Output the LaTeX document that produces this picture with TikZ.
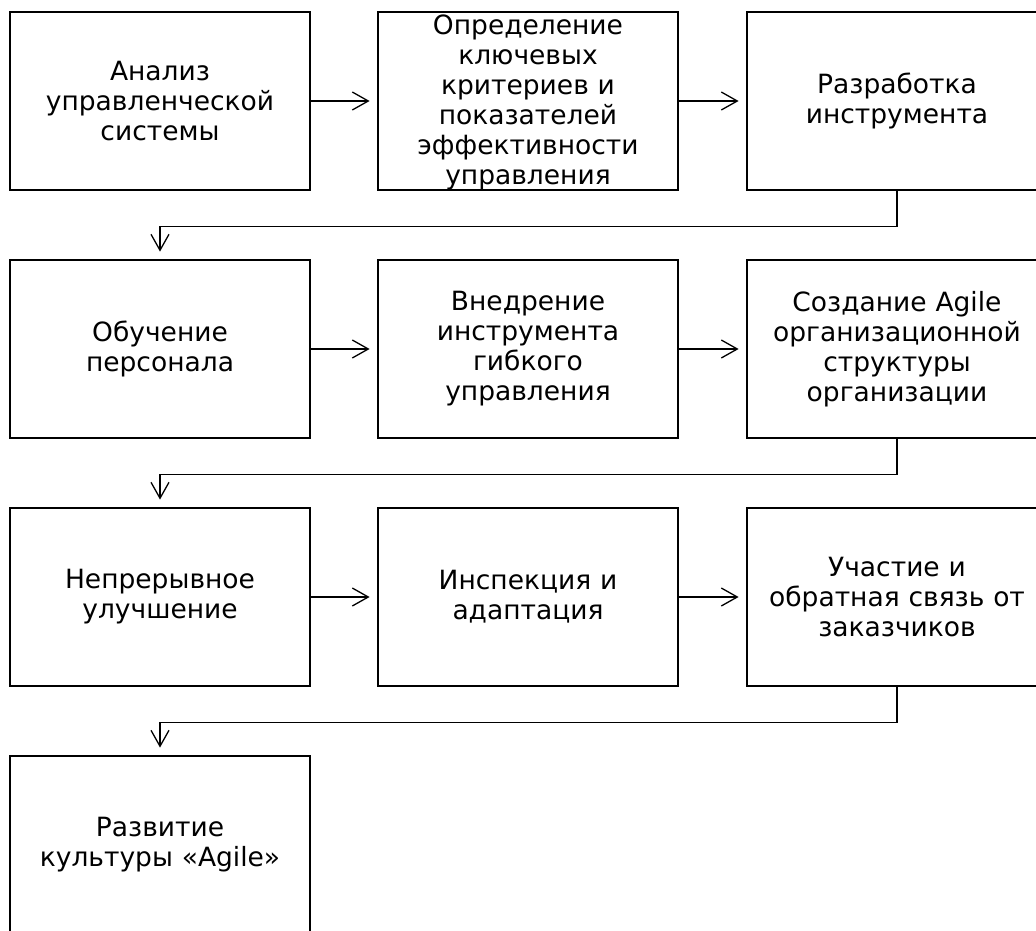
\documentclass[tikz,border=0pt]{standalone}
\usepackage{fontspec}
\setmainfont{DejaVu Sans}
\usetikzlibrary{arrows.meta}
\begin{document}
\begin{tikzpicture}[x=1pt,y=-1pt,
 lbl/.style={text width=296pt, align=center, inner sep=0pt, font=\fontsize{26.5}{30}\selectfont},
 box/.style={lbl, draw, line width=2.8pt, minimum width=300pt, minimum height=178pt},
 conn/.style={line width=1.3pt, -{Straight Barb[length=16pt,width=18pt,line width=1.3pt]}, shorten >=7pt}]
\useasboundingbox (0,0) rectangle (1036,931);
\node[box] (a1) at (160,101) {Анализ\\управленческой\\системы};
\node[box] (a2) at (528,101) {};
\node[lbl] (a2t) at ([yshift=-1pt]a2.center) {Определение\\ключевых\\критериев и\\показателей\\эффективности\\управления};
\node[box] (a3) at (897,101) {Разработка\\инструмента};
\node[box] (b1) at (160,349) {Обучение\\персонала};
\node[box] (b2) at (528,349) {Внедрение\\инструмента\\гибкого\\управления};
\node[box] (b3) at (897,349) {Создание Agile\\организационной\\структуры\\организации};
\node[box] (c1) at (160,597) {Непрерывное\\улучшение};
\node[box] (c2) at (528,597) {Инспекция и\\адаптация};
\node[box] (c3) at (897,597) {Участие и\\обратная связь от\\заказчиков};
\node[box] (d1) at (160,845) {Развитие\\культуры «Agile»};
\draw[conn] (a1) -- (a2);
\draw[conn] (a2) -- (a3);
\draw[conn] (b1) -- (b2);
\draw[conn] (b2) -- (b3);
\draw[conn] (c1) -- (c2);
\draw[conn] (c2) -- (c3);
\draw[conn] (a3.south) -- ++(0,35) -| (b1.north);
\draw[conn] (b3.south) -- ++(0,35) -| (c1.north);
\draw[conn] (c3.south) -- ++(0,35) -| (d1.north);
\end{tikzpicture}
\end{document}
